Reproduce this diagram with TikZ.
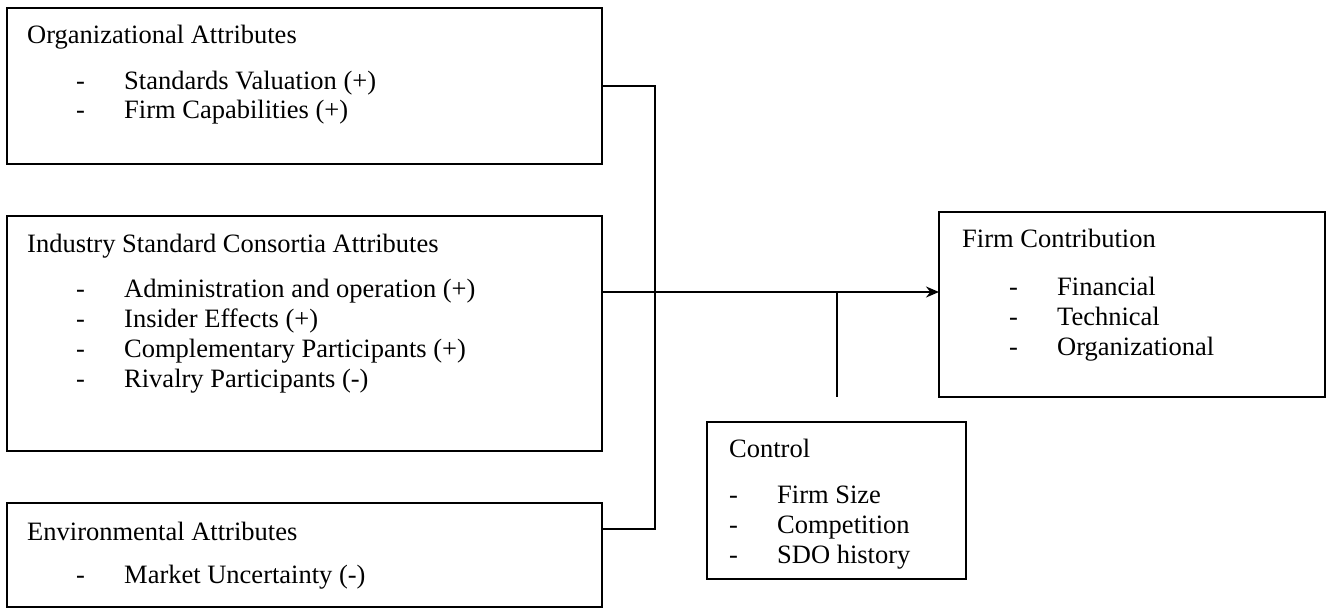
\documentclass[tikz,border=0pt]{standalone}
\usepackage{fontspec}
\setmainfont{Liberation Serif}
\usetikzlibrary{arrows.meta}
\newcommand{\litem}[1]{\makebox[48pt][l]{-}#1}
\begin{document}
\begin{tikzpicture}[x=1pt,y=-1pt]

\def\lw{1.6pt}
\tikzstyle{box} = [
	draw, rectangle, line width=\lw, inner sep=0pt, outer sep=0pt ];
\tikzstyle{txt} = [anchor=base west, inner sep=0pt, font=\fontsize{26.5}{29}\selectfont];
\tikzstyle{wire} = [line width=\lw];
\useasboundingbox (0,0) rectangle (1326,608);

% boxes
\node[box,minimum width=595pt,minimum height=156pt] (org) at (304.5,86) {};
\node[box,minimum width=595pt,minimum height=235pt] (ind) at (304.5,333.5) {};
\node[box,minimum width=595pt,minimum height=104pt] (env) at (304.5,555) {};
\node[box,minimum width=386pt,minimum height=185pt] (firm) at (1132,304.5) {};
\node[box,minimum width=259pt,minimum height=157pt] (ctrl) at (836.5,500.5) {};

% texts
\node[txt] (ot) at (27,43) {Organizational Attributes};
\node[txt] (o1) at (76,89) {\litem{Standards Valuation (+)}};
\node[txt] (o2) at (76,118) {\litem{Firm Capabilities (+)}};

\node[txt] (it) at (27,252) {Industry Standard Consortia Attributes};
\node[txt] (i1) at (76,297) {\litem{Administration and operation (+)}};
\node[txt] (i2) at (76,327) {\litem{Insider Effects (+)}};
\node[txt] (i3) at (76,357) {\litem{Complementary Participants (+)}};
\node[txt] (i4) at (76,387) {\litem{Rivalry Participants (-)}};

\node[txt] (et) at (27,540) {Environmental Attributes};
\node[txt] (e1) at (76,583) {\litem{Market Uncertainty (-)}};

\node[txt] (ft) at (962,247) {Firm Contribution};
\node[txt] (f1) at (1009,295) {\litem{Financial}};
\node[txt] (f2) at (1009,325) {\litem{Technical}};
\node[txt] (f3) at (1009,355) {\litem{Organizational}};

\node[txt] (ct) at (729,457) {Control};
\node[txt] (c1) at (729,503) {\litem{Firm Size}};
\node[txt] (c2) at (729,533) {\litem{Competition}};
\node[txt] (c3) at (729,563) {\litem{SDO history}};

% connectors
\coordinate (jt) at (655,86);
\coordinate (jb) at (655,529);
\coordinate (jc) at (837,292);
\draw[wire] (org.east |- jt) -- (jt) -- (jb) -- (env.east |- jb);
\draw[wire,-{Stealth[length=13pt,width=11pt]}] (ind.east |- jc) -- (firm.west |- jc);
\draw[wire] (jc) -- (jc |- firm.south);

\end{tikzpicture}
\end{document}
